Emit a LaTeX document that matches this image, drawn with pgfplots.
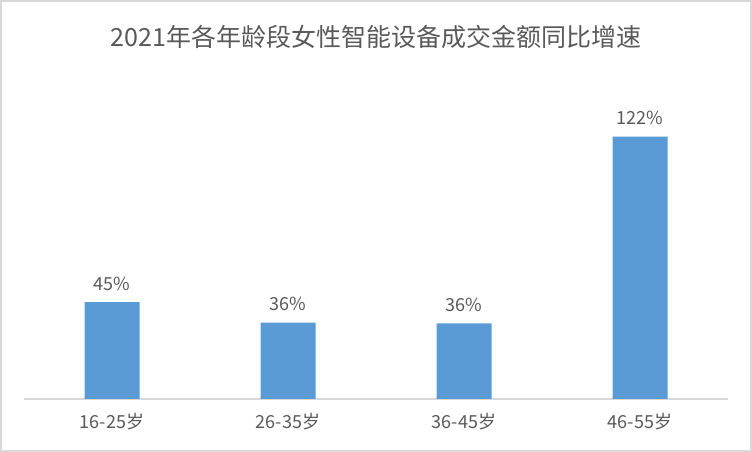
\documentclass[border=0pt]{standalone}
\usepackage{pgfplots}
\pgfplotsset{compat=1.18}
\usepackage{fontspec}
\setmainfont{Noto Sans CJK SC}
\definecolor{barblue}{HTML}{5B9BD5}
\definecolor{txtgray}{HTML}{595959}
\definecolor{linegray}{HTML}{D9D9D9}
\begin{document}
\begin{tikzpicture}[x=1pt,y=1pt]
\useasboundingbox (-24,-53) rectangle (728,399);
\begin{axis}[
    at={(0,0)}, anchor=south west,
    scale only axis, width=704pt, height=301pt,
    xmin=-0.5, xmax=3.5, ymin=0, ymax=140,
    hide y axis,
    axis x line*=bottom,
    x axis line style={linegray, line width=1.5pt, -},
    xtick={0,1,2,3},
    xticklabels={16-25岁,26-35岁,36-45岁,46-55岁},
    major tick length=0pt,
    xticklabel style={font=\fontsize{18}{18}\selectfont, text=txtgray, yshift=-11pt},
    ybar, bar width=55pt,
    point meta=explicit symbolic,
    nodes near coords,
    nodes near coords style={font=\fontsize{18}{18}\selectfont, text=txtgray, yshift=8pt},
  ]
  \addplot[fill=barblue, draw=none] coordinates {
    (0,45) [45\%]
    (1,35.5) [36\%]
    (2,35.2) [36\%]
    (3,122) [122\%]
  };
\end{axis}
\node[font=\fontsize{25}{25}\selectfont, text=txtgray] at (352,362) {2021年各年龄段女性智能设备成交金额同比增速};
\draw[linegray, line width=2pt] (-23,-52) rectangle (727,398);
\end{tikzpicture}
\end{document}
